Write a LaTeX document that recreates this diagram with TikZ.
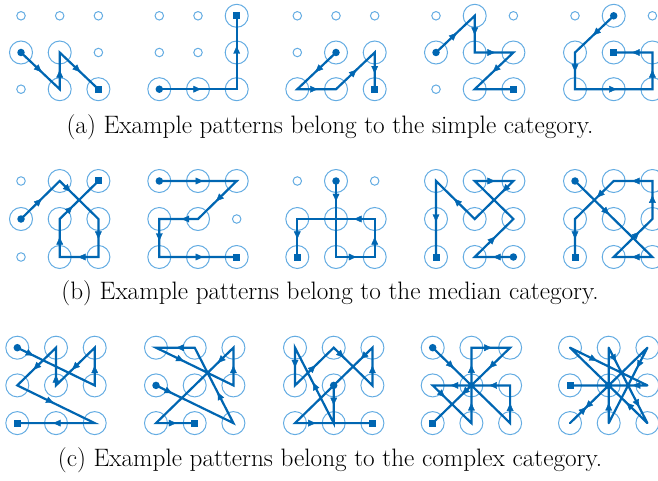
\documentclass[tikz,border=0pt]{standalone}
\usepackage{tikz}
\usetikzlibrary{arrows.meta,decorations.markings}
\definecolor{pblue}{RGB}{0,102,178}
\definecolor{plight}{RGB}{100,172,226}

% 3x3 grid of named points: name, left x, top y, row step
\newcommand{\padgrid}[4]{%
  \foreach \c in {0,1,2}{
    \foreach \r in {0,1,2}{
      \coordinate (#1-\c\r) at ({#2+38.7*\c},{#3+#4*\r});
    }
  }
}
\newcommand{\padoff}[2]{\foreach \k in {#2}{\node[dotoff] at (#1-\k) {};}}
\newcommand{\padon}[2]{\foreach \k in {#2}{\node[doton] at (#1-\k) {};}}

\begin{document}
\begin{tikzpicture}[x=1pt, y=-1pt]
    \tikzset{
        dotoff/.style={draw=plight, line width=1pt, circle, inner sep=0pt, minimum size=8.5pt},
        doton/.style={draw=plight, line width=1pt, circle, inner sep=0pt, minimum size=23pt},
        pline/.style={draw=pblue, line width=2.2pt, line join=miter},
        arr/.style={postaction={decorate, decoration={markings, mark=at position #1 with {\arrow{Latex[length=8.5pt,width=7pt,color=pblue]}}}}},
        startdot/.style={fill=pblue, circle, inner sep=0pt, minimum size=7.5pt},
        enddot/.style={fill=pblue, rectangle, inner sep=0pt, minimum size=7pt},
        caption/.style={font=\fontsize{25.2}{30}\selectfont, anchor=center}
    }
    \useasboundingbox (0,0) rectangle (658,481);
    \clip (0,0) rectangle (658,481);

    % (a) simple
    \padgrid{a1}{21}{15.8}{36.7}
    \padgrid{a2}{159.3}{15.8}{36.7}
    \padgrid{a3}{297.3}{15.8}{36.7}
    \padgrid{a4}{436}{15.8}{36.7}
    \padgrid{a5}{575}{15.8}{36.7}

    \padoff{a1}{00,10,20,21,02}
    \padon{a1}{01,11,12,22}
    \draw[pline] (a1-01) -- (a1-12) -- (a1-11) -- (a1-22);
    \path[arr=.55] (a1-01) -- (a1-12);
    \path[arr=.55] (a1-12) -- (a1-11);
    \path[arr=.55] (a1-11) -- (a1-22);
    \node[startdot] (a1s) at (a1-01) {};
    \node[enddot] (a1e) at (a1-22) {};

    \padoff{a2}{00,10,01,11}
    \padon{a2}{02,12,22,21,20}
    \draw[pline] (a2-02) -- (a2-22) -- (a2-20);
    \path[arr=.55] (a2-02) -- (a2-22);
    \path[arr=.6] (a2-22) -- (a2-20);
    \node[startdot] (a2s) at (a2-02) {};
    \node[enddot] (a2e) at (a2-20) {};

    \padoff{a3}{00,10,20,01}
    \padon{a3}{11,21,02,12,22}
    \draw[pline] (a3-11) -- (a3-02) -- (a3-12) -- (a3-21) -- (a3-22);
    \path[arr=.55] (a3-11) -- (a3-02);
    \path[arr=.55] (a3-02) -- (a3-12);
    \path[arr=.55] (a3-12) -- (a3-21);
    \path[arr=.6] (a3-21) -- (a3-22);
    \node[startdot] (a3s) at (a3-11) {};
    \node[enddot] (a3e) at (a3-22) {};

    \padoff{a4}{00,20,02}
    \padon{a4}{10,01,11,21,12,22}
    \draw[pline] (a4-01) -- (a4-10) -- (a4-11) -- (a4-21) -- (a4-12) -- (a4-22);
    \path[arr=.55] (a4-01) -- (a4-10);
    \path[arr=.55] (a4-10) -- (a4-11);
    \path[arr=.55] (a4-11) -- (a4-21);
    \path[arr=.55] (a4-21) -- (a4-12);
    \node[startdot] (a4s) at (a4-01) {};
    \node[enddot] (a4e) at (a4-22) {};

    \padoff{a5}{00,20}
    \padon{a5}{10,01,11,21,02,12,22}
    \draw[pline] (a5-10) -- (a5-01) -- (a5-02) -- (a5-22) -- (a5-21) -- (a5-11);
    \path[arr=.55] (a5-10) -- (a5-01);
    \path[arr=.55] (a5-01) -- (a5-02);
    \path[arr=.55] (a5-02) -- (a5-22);
    \path[arr=.55] (a5-22) -- (a5-21);
    \path[arr=.55] (a5-21) -- (a5-11);
    \node[startdot] (a5s) at (a5-10) {};
    \node[enddot] (a5e) at (a5-11) {};

    \node[caption] (capa) at (330,127.5) {(a) Example patterns belong to the simple category.};

    % (b) median
    \padgrid{b1}{21}{181}{38}
    \padgrid{b2}{159.3}{181}{38}
    \padgrid{b3}{297.3}{181}{38}
    \padgrid{b4}{436}{181}{38}
    \padgrid{b5}{575}{181}{38}

    \padoff{b1}{00,02}
    \padon{b1}{10,20,01,11,21,12,22}
    \draw[pline] (b1-01) -- (b1-10) -- (b1-21) -- (b1-22) -- (b1-12) -- (b1-11) -- (b1-20);
    \path[arr=.55] (b1-01) -- (b1-10);
    \path[arr=.3] (b1-10) -- (b1-21);
    \path[arr=.55] (b1-21) -- (b1-22);
    \path[arr=.55] (b1-22) -- (b1-12);
    \path[arr=.55] (b1-12) -- (b1-11);
    \path[arr=.35] (b1-11) -- (b1-20);
    \node[startdot] (b1s) at (b1-01) {};
    \node[enddot] (b1e) at (b1-20) {};

    \padoff{b2}{21}
    \padon{b2}{00,10,20,01,11,02,12,22}
    \draw[pline] (b2-00) -- (b2-20) -- (b2-11) -- (b2-01) -- (b2-02) -- (b2-22);
    \path[arr=.58] (b2-00) -- (b2-20);
    \path[arr=.55] (b2-20) -- (b2-11);
    \path[arr=.45] (b2-11) -- (b2-01);
    \path[arr=.6] (b2-01) -- (b2-02);
    \path[arr=.58] (b2-02) -- (b2-22);
    \node[startdot] (b2s) at (b2-00) {};
    \node[enddot] (b2e) at (b2-22) {};

    \padoff{b3}{00,20}
    \padon{b3}{10,01,11,21,02,12,22}
    \draw[pline] (b3-10) -- (b3-12) -- (b3-22) -- (b3-21) -- (b3-01) -- (b3-02);
    \path[arr=.28] (b3-10) -- (b3-12);
    \path[arr=.55] (b3-12) -- (b3-22);
    \path[arr=.55] (b3-22) -- (b3-21);
    \path[arr=.28] (b3-21) -- (b3-01);
    \path[arr=.55] (b3-01) -- (b3-02);
    \node[startdot] (b3s) at (b3-10) {};
    \node[enddot] (b3e) at (b3-02) {};

    \padon{b4}{00,10,20,01,11,21,02,12,22}
    \draw[pline] (b4-22) -- (b4-12) -- (b4-21) -- (b4-10) -- (b4-20) -- (b4-11) -- (b4-00) -- (b4-02);
    \path[arr=.55] (b4-22) -- (b4-12);
    \path[arr=.55] (b4-12) -- (b4-21);
    \path[arr=.55] (b4-10) -- (b4-20);
    \path[arr=.3] (b4-20) -- (b4-11);
    \path[arr=.55] (b4-11) -- (b4-00);
    \path[arr=.55] (b4-00) -- (b4-02);
    \node[startdot] (b4s) at (b4-22) {};
    \node[enddot] (b4e) at (b4-02) {};

    \padon{b5}{00,10,20,01,11,21,02,12,22}
    \draw[pline] (b5-00) -- (b5-22) -- (b5-12) -- (b5-21) -- (b5-20) -- (b5-10) -- (b5-01) -- (b5-02);
    \path[arr=.45] (b5-00) -- (b5-22);
    \path[arr=.55] (b5-22) -- (b5-12);
    \path[arr=.68] (b5-12) -- (b5-21);
    \path[arr=.65] (b5-21) -- (b5-20);
    \path[arr=.55] (b5-20) -- (b5-10);
    \path[arr=.45] (b5-10) -- (b5-01);
    \path[arr=.55] (b5-01) -- (b5-02);
    \node[startdot] (b5s) at (b5-00) {};
    \node[enddot] (b5e) at (b5-02) {};

    \node[caption] (capb) at (330,293.5) {(b) Example patterns belong to the median category.};

    % (c) complex
    \padgrid{c1}{17.3}{347.7}{37.7}
    \padgrid{c2}{156}{347.7}{37.7}
    \padgrid{c3}{295}{347.7}{37.7}
    \padgrid{c4}{432.7}{347.7}{37.7}
    \padgrid{c5}{570}{347.7}{37.7}

    \padon{c1}{00,10,20,01,11,21,02,12,22}
    \draw[pline] (c1-00) -- (c1-21) -- (c1-20) -- (c1-11) -- (c1-10) -- (c1-01) -- (c1-22) -- (c1-02);
    \path[arr=.22] (c1-00) -- (c1-21);
    \path[arr=.55] (c1-21) -- (c1-20);
    \path[arr=.6] (c1-20) -- (c1-11);
    \path[arr=.3] (c1-11) -- (c1-10);
    \path[arr=.6] (c1-10) -- (c1-01);
    \path[arr=.48] (c1-01) -- (c1-22);
    \path[arr=.55] (c1-22) -- (c1-02);
    \node[startdot] (c1s) at (c1-00) {};
    \node[enddot] (c1e) at (c1-02) {};

    \padon{c2}{00,10,20,01,11,21,02,12,22}
    \draw[pline] (c2-01) -- (c2-22) -- (c2-10) -- (c2-00) -- (c2-21) -- (c2-20) -- (c2-02) -- (c2-12);
    \path[arr=.22] (c2-01) -- (c2-22);
    \path[arr=.42] (c2-22) -- (c2-10);
    \path[arr=.5] (c2-10) -- (c2-00);
    \path[arr=.37] (c2-00) -- (c2-21);
    \path[arr=.55] (c2-21) -- (c2-20);
    \path[arr=.21] (c2-20) -- (c2-02);
    \path[arr=.55] (c2-02) -- (c2-12);
    \node[startdot] (c2s) at (c2-01) {};
    \node[enddot] (c2e) at (c2-12) {};

    \padon{c3}{00,10,20,01,11,21,02,12,22}
    \draw[pline] (c3-11) -- (c3-12) -- (c3-00) -- (c3-01) -- (c3-10) -- (c3-21) -- (c3-20) -- (c3-02) -- (c3-22);
    \path[arr=.55] (c3-11) -- (c3-12);
    \path[arr=.55] (c3-12) -- (c3-00);
    \path[arr=.55] (c3-00) -- (c3-01);
    \path[arr=.55] (c3-01) -- (c3-10);
    \path[arr=.28] (c3-10) -- (c3-21);
    \path[arr=.55] (c3-21) -- (c3-20);
    \path[arr=.16] (c3-20) -- (c3-02);
    \path[arr=.28] (c3-02) -- (c3-22);
    \node[startdot] (c3s) at (c3-11) {};
    \node[enddot] (c3e) at (c3-22) {};

    \padon{c4}{00,10,20,01,11,21,02,12,22}
    \draw[pline] (c4-00) -- (c4-22) -- (c4-21) -- (c4-01) -- (c4-12) -- (c4-10) -- (c4-20) -- (c4-02);
    \path[arr=.28] (c4-00) -- (c4-22);
    \path[arr=.55] (c4-22) -- (c4-21);
    \path[arr=.28, arr=.78] (c4-21) -- (c4-01);
    \path[arr=.33] (c4-01) -- (c4-12);
    \path[arr=.28, arr=.78] (c4-12) -- (c4-10);
    \path[arr=.55] (c4-10) -- (c4-20);
    \path[arr=.28, arr=.63] (c4-20) -- (c4-02);
    \node[startdot] (c4s) at (c4-00) {};
    \node[enddot] (c4e) at (c4-02) {};

    \padon{c5}{00,10,20,01,11,21,02,12,22}
    \draw[pline, line join=round] (c5-11) -- (c5-02) -- (c5-20) -- (c5-12) -- (c5-10) -- (c5-22) -- (c5-00) -- (c5-21) -- (c5-01);
    \path[arr=.62] (c5-11) -- (c5-02);
    \path[arr=.22] (c5-02) -- (c5-20);
    \path[arr=.28] (c5-20) -- (c5-12);
    \path[arr=.28] (c5-12) -- (c5-10);
    \path[arr=.2, arr=.8] (c5-10) -- (c5-22);
    \path[arr=.28] (c5-22) -- (c5-00);
    \path[arr=.36] (c5-00) -- (c5-21);
    \path[arr=.2] (c5-21) -- (c5-01);
    \node[startdot] (c5s) at (c5-11) {};
    \node[enddot] (c5e) at (c5-01) {};

    \node[caption] (capc) at (330,460) {(c) Example patterns belong to the complex category.};
\end{tikzpicture}
\end{document}
